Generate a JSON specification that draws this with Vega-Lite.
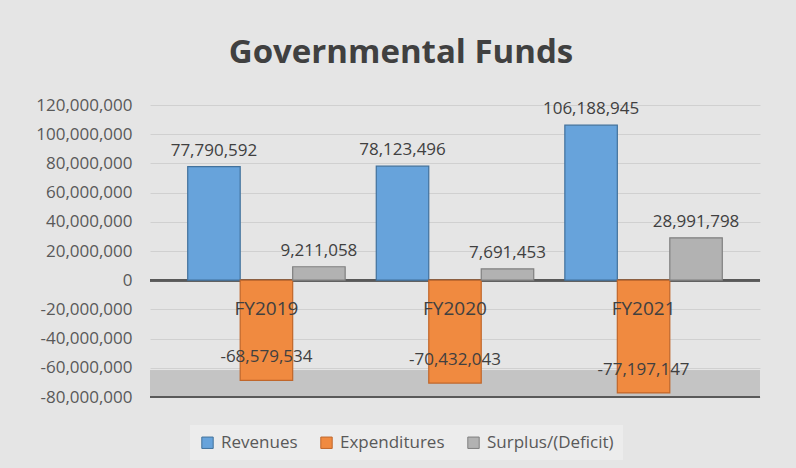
{
  "$schema": "https://vega.github.io/schema/vega-lite/v6.json",
  "autosize": "none",
  "width": 610,
  "height": 292,
  "padding": {"left": 150, "top": 105, "right": 36, "bottom": 71},
  "background": "#e5e5e5",
  "config": {
    "font": "Open Sans",
    "view": {"stroke": null},
    "numberFormat": ",",
    "locale": {"number": {"decimal": ".", "thousands": ",", "grouping": [3], "currency": ["$", ""], "minus": "-"}},
    "axis": {"labelFont": "Open Sans"},
    "axisY": {
      "domain": false,
      "ticks": false,
      "grid": true,
      "tickCount": 10,
      "labelOverlap": false,
      "labelPadding": 18,
      "labelFontSize": 17,
      "labelColor": "#595959",
      "gridColor": "#d0d0d0",
      "gridWidth": 1
    },
    "legend": {"labelFont": "Open Sans"}
  },
  "title": {
    "text": "Governmental Funds",
    "fontSize": 33,
    "fontWeight": "bold",
    "color": "#404040",
    "anchor": "middle",
    "frame": "group",
    "dx": -54,
    "offset": 26
  },
  "data": {
    "values": [
      {"year": "FY2019", "series": "Revenues", "value": 77790592},
      {"year": "FY2019", "series": "Expenditures", "value": -68579534},
      {"year": "FY2019", "series": "Surplus/(Deficit)", "value": 9211058},
      {"year": "FY2020", "series": "Revenues", "value": 78123496},
      {"year": "FY2020", "series": "Expenditures", "value": -70432043},
      {"year": "FY2020", "series": "Surplus/(Deficit)", "value": 7691453},
      {"year": "FY2021", "series": "Revenues", "value": 106188945},
      {"year": "FY2021", "series": "Expenditures", "value": -77197147},
      {"year": "FY2021", "series": "Surplus/(Deficit)", "value": 28991798}
    ]
  },
  "encoding": {
    "x": {
      "field": "year",
      "type": "nominal",
      "scale": {"paddingInner": 0.165, "paddingOuter": 0.2},
      "axis": {
        "title": null,
        "orient": "bottom",
        "offset": -117,
        "zindex": 1,
        "domain": false,
        "ticks": false,
        "labelAngle": 0,
        "labelPadding": 19,
        "labelFontSize": 19,
        "labelColor": "#404040"
      }
    }
  },
  "layer": [
    {
      "mark": {"type": "rect", "color": "#c4c4c4"},
      "encoding": {
        "x": null,
        "y": {"datum": -62000000, "type": "quantitative", "scale": {"domain": [-80000000, 120000000], "nice": false}, "axis": {"title": null, "labelExpr": "format(datum.value, ',')"}},
        "y2": {"datum": -80000000}
      }
    },
    {
      "mark": {"type": "rule", "color": "#595959", "strokeWidth": 2},
      "encoding": {"x": null, "y": {"datum": 0, "type": "quantitative"}}
    },
    {
      "mark": {"type": "rule", "color": "#595959", "strokeWidth": 2},
      "encoding": {"x": null, "y": {"datum": -80000000, "type": "quantitative"}}
    },
    {
      "mark": {"type": "bar", "strokeWidth": 1.2, "opacity": 1},
      "encoding": {
        "y": {"field": "value", "type": "quantitative", "axis": {"title": null, "labelExpr": "format(datum.value, ',')"}},
        "xOffset": {"field": "series", "type": "nominal", "sort": ["Revenues", "Expenditures", "Surplus/(Deficit)"], "scale": {"paddingInner": 0}},
        "color": {
          "field": "series",
          "type": "nominal",
          "scale": {"domain": ["Revenues", "Expenditures", "Surplus/(Deficit)"], "range": ["#67a3db", "#f08a40", "#b2b2b2"]},
          "legend": {
            "title": null,
            "orient": "none",
            "legendX": 40,
            "legendY": 320,
            "direction": "horizontal",
            "fillColor": "#ececec",
            "padding": 9,
            "symbolType": "square",
            "symbolSize": 130,
            "symbolStrokeWidth": 1,
            "labelFontSize": 17,
            "labelColor": "#595959",
            "columnPadding": 20,
            "labelOffset": 5
          }
        },
        "stroke": {
          "field": "series",
          "type": "nominal",
          "scale": {"domain": ["Revenues", "Expenditures", "Surplus/(Deficit)"], "range": ["#41719c", "#c0662a", "#7f7f7f"]},
          "legend": null
        }
      }
    },
    {
      "transform": [{"filter": "datum.value > 0"}],
      "mark": {"type": "text", "baseline": "bottom", "dy": -7, "fontSize": 17, "color": "#404040"},
      "encoding": {
        "y": {"field": "value", "type": "quantitative"},
        "xOffset": {"field": "series", "type": "nominal", "sort": ["Revenues", "Expenditures", "Surplus/(Deficit)"]},
        "text": {"field": "value", "type": "quantitative", "format": ","}
      }
    },
    {
      "transform": [{"filter": "datum.value < 0"}],
      "mark": {"type": "text", "baseline": "bottom", "dy": -14, "fontSize": 17, "color": "#404040"},
      "encoding": {
        "y": {"field": "value", "type": "quantitative"},
        "xOffset": {"field": "series", "type": "nominal", "sort": ["Revenues", "Expenditures", "Surplus/(Deficit)"]},
        "text": {"field": "value", "type": "quantitative", "format": ","}
      }
    }
  ]
}
